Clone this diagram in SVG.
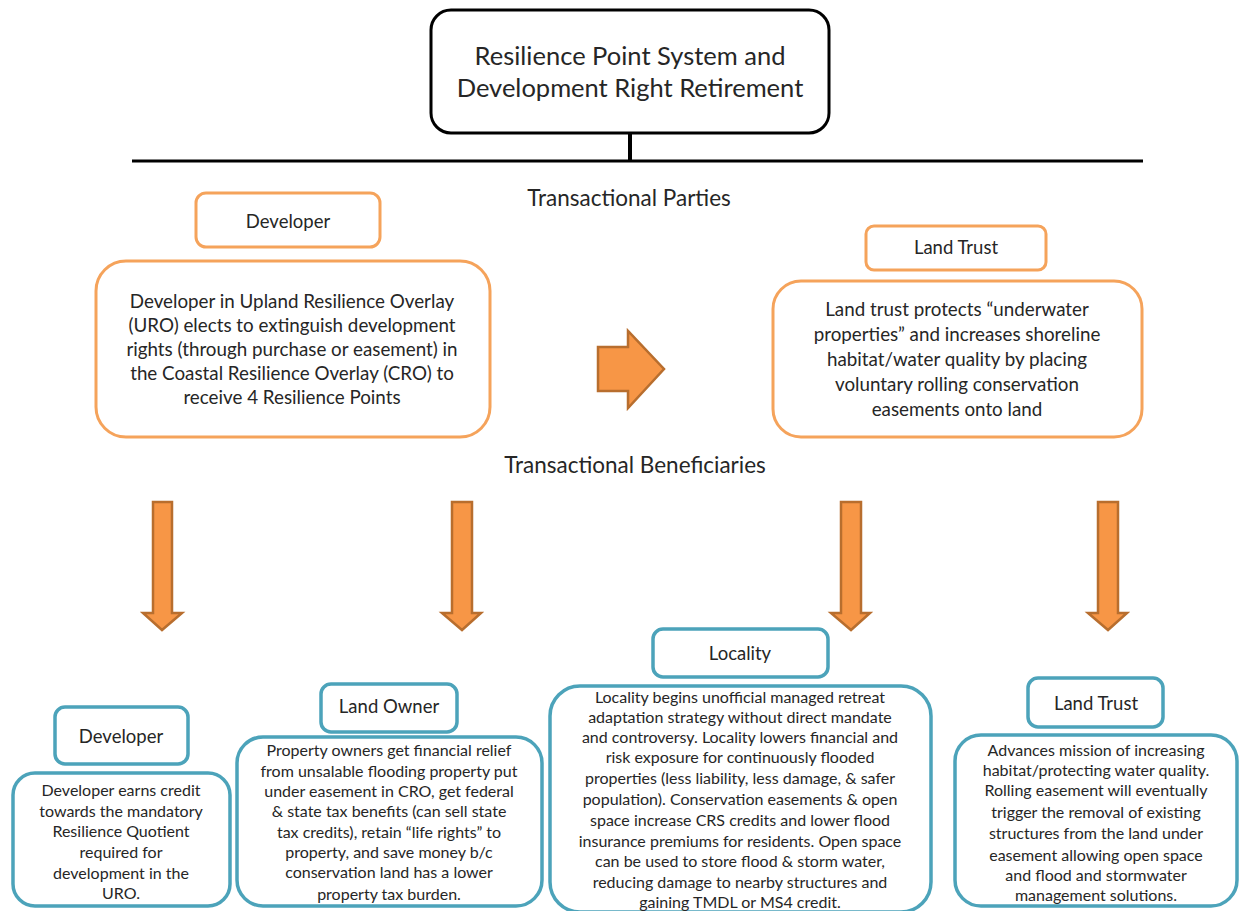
<svg xmlns="http://www.w3.org/2000/svg" width="1243" height="911" viewBox="0 0 1243 911">
<style>
text{font-family:Lato,"Open Sans","Liberation Sans",sans-serif;fill:#262626;text-anchor:middle}
.or{fill:#fff;stroke:#F5A35B;stroke-width:3}
.tl{fill:#fff;stroke:#4CA3BA;stroke-width:3.5}
.arr{fill:#F79646;stroke:#B86E2E;stroke-width:2.5;stroke-linejoin:miter}
.h{font-size:18.5px}
.d{font-size:18.8px}
.s{font-size:16px}
.lbl{font-size:22.5px}
</style>
<rect width="1243" height="911" fill="#fff"/>
<g id="title">
<rect x="431" y="10" width="398" height="123" rx="20" fill="#fff" stroke="#000" stroke-width="3"/>
<text x="630" y="65" style="font-size:25.5px">Resilience  Point System and</text>
<text x="630" y="97" style="font-size:25.5px">Development  Right Retirement</text>
</g>
<g id="connectors">
<line x1="630" y1="133" x2="630" y2="161" stroke="#000" stroke-width="4"/>
<line x1="132" y1="161" x2="1143" y2="161" stroke="#000" stroke-width="3"/>
<polygon class="arr" points="598,347 628,347 628,331 664,369 628,408 628,391 598,391"/>
<polygon class="arr" points="153,502 172,502 172,613 182,613 162,630 143,613 153,613"/>
<polygon class="arr" points="452,502 472,502 472,613 481,613 462,630 442,613 452,613"/>
<polygon class="arr" points="841,502 861,502 861,613 870,613 851,630 831,613 841,613"/>
<polygon class="arr" points="1098,502 1118,502 1118,613 1127,613 1108,630 1088,613 1098,613"/>
</g>
<text class="lbl" x="629" y="206">Transactional Parties</text>
<text class="lbl" x="635" y="473">Transactional Beneficiaries</text>
<g id="developer-top">
<rect class="or" x="196" y="193" width="184" height="54" rx="10"/>
<text class="h" x="288" y="228">Developer</text>
</g>
<g id="developer-desc">
<rect class="or" x="96" y="261" width="394" height="176" rx="30"/>
<text class="d" x="292" y="308">Developer in Upland Resilience Overlay</text>
<text class="d" x="292" y="332">(URO)  elects to extinguish development</text>
<text class="d" x="292" y="356">rights (through purchase or easement) in</text>
<text class="d" x="292" y="380">the Coastal Resilience Overlay (CRO) to</text>
<text class="d" x="292" y="404">receive 4 Resilience Points</text>
</g>
<g id="landtrust-top">
<rect class="or" x="866" y="226" width="180" height="44" rx="8"/>
<text class="h" x="956" y="254">Land Trust</text>
</g>
<g id="landtrust-desc">
<rect class="or" x="773" y="281" width="369" height="156" rx="28"/>
<text class="d" x="957" y="316">Land trust protects “underwater</text>
<text class="d" x="957" y="341">properties” and increases shoreline</text>
<text class="d" x="957" y="366">habitat/water quality by placing</text>
<text class="d" x="957" y="391">voluntary rolling conservation</text>
<text class="d" x="957" y="416">easements onto land</text>
</g>
<g id="developer-bottom">
<rect class="tl" x="55" y="707" width="133" height="57" rx="10"/>
<text class="h" x="121" y="743">Developer</text>
</g>
<g id="developer-bottom-desc">
<rect class="tl" x="13" y="773" width="217" height="133" rx="22"/>
<text class="s" x="121" y="796">Developer earns credit</text>
<text class="s" x="121" y="817">towards the mandatory</text>
<text class="s" x="121" y="837">Resilience Quotient</text>
<text class="s" x="121" y="858">required for</text>
<text class="s" x="121" y="879">development  in the</text>
<text class="s" x="121" y="899">URO.</text>
</g>
<g id="landowner">
<rect class="tl" x="321" y="684" width="136" height="48" rx="10"/>
<text class="h" x="389" y="713">Land Owner</text>
</g>
<g id="landowner-desc">
<rect class="tl" x="237" y="737" width="305" height="169" rx="26"/>
<text class="s" x="389" y="756">Property owners get  financial relief</text>
<text class="s" x="389" y="777">from unsalable flooding property put</text>
<text class="s" x="389" y="797">under easement  in CRO, get  federal</text>
<text class="s" x="389" y="817">&amp; state tax benefits (can sell state</text>
<text class="s" x="389" y="838">tax credits), retain “life rights” to</text>
<text class="s" x="389" y="858">property,  and save money  b/c</text>
<text class="s" x="389" y="878">conservation land has a lower</text>
<text class="s" x="389" y="900">property tax burden.</text>
</g>
<g id="locality">
<rect class="tl" x="653" y="629" width="175" height="48" rx="10"/>
<text class="h" x="740" y="660">Locality</text>
</g>
<g id="locality-desc">
<rect class="tl" x="550" y="686" width="381" height="226" rx="30"/>
<text class="s" x="740" y="703">Locality begins unofficial managed retreat</text>
<text class="s" x="740" y="723">adaptation strategy without  direct mandate</text>
<text class="s" x="740" y="743">and controversy. Locality lowers financial and</text>
<text class="s" x="740" y="763">risk exposure for continuously flooded</text>
<text class="s" x="740" y="784">properties (less liability, less damage, &amp; safer</text>
<text class="s" x="740" y="805">population). Conservation easements &amp;  open</text>
<text class="s" x="740" y="826">space increase CRS credits and lower flood</text>
<text class="s" x="740" y="847">insurance premiums for residents. Open  space</text>
<text class="s" x="740" y="867">can be  used to  store flood &amp; storm water,</text>
<text class="s" x="740" y="888">reducing damage  to nearby structures and</text>
<text class="s" x="740" y="908">gaining TMDL or MS4  credit.</text>
</g>
<g id="landtrust-bottom">
<rect class="tl" x="1028" y="678" width="135" height="49" rx="10"/>
<text class="h" x="1096" y="710">Land Trust</text>
</g>
<g id="landtrust-bottom-desc">
<rect class="tl" x="955" y="735" width="282" height="171" rx="26"/>
<text class="s" x="1096" y="756">Advances mission of increasing</text>
<text class="s" x="1096" y="776">habitat/protecting water  quality.</text>
<text class="s" x="1096" y="796">Rolling easement will eventually</text>
<text class="s" x="1096" y="818">trigger the  removal of existing</text>
<text class="s" x="1096" y="839">structures from the  land under</text>
<text class="s" x="1096" y="861">easement  allowing open space</text>
<text class="s" x="1096" y="881">and flood and stormwater</text>
<text class="s" x="1096" y="901">management  solutions.</text>
</g>
</svg>
